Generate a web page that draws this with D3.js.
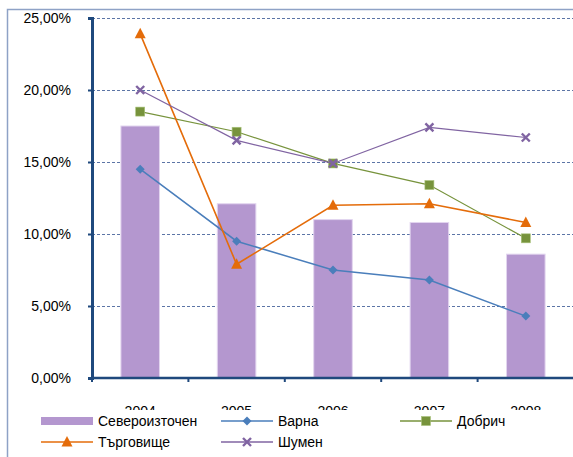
<!DOCTYPE html>
<html>
<head>
<meta charset="utf-8">
<script src="https://cdn.jsdelivr.net/npm/d3@7"></script>
<style>
  body { margin: 0; background: #fff; }
  svg text { font-family: "Liberation Sans", Arial, sans-serif; fill: #000; }
</style>
</head>
<body>
<svg id="chart" width="573" height="457"></svg>
<script>
// data
var years = ['2004', '2005', '2006', '2007', '2008'];
var severoiztochen = [17.5, 12.1, 11.0, 10.8, 8.6];
var varna = [14.5, 9.5, 7.5, 6.8, 4.3];
var dobrich = [18.5, 17.1, 14.9, 13.4, 9.7];
var targovishte = [23.9, 7.9, 12.0, 12.1, 10.8];
var shumen = [20.0, 16.5, 14.9, 17.4, 16.7];
var yTicks = [0, 5, 10, 15, 20, 25];

var lineSeries = [
    { name: 'Варна', values: varna, color: '#4A7EBB', width: 1.5, marker: 'diamond' },
    { name: 'Добрич', values: dobrich, color: '#77933C', width: 1.2, marker: 'square' },
    { name: 'Търговище', values: targovishte, color: '#E46C0A', width: 1.6, marker: 'triangle' },
    { name: 'Шумен', values: shumen, color: '#8064A2', width: 1.2, marker: 'x' }
];

var svg = d3.select('#chart');
var plotLeft = 92, plotRight = 574, plotTop = 18, plotBottom = 378;

// outer chart border
svg.append('rect')
    .attr('x', 7.5).attr('y', 9.5)
    .attr('width', 600).attr('height', 500)
    .attr('fill', 'none')
    .attr('stroke', '#8EA2C6')
    .attr('stroke-width', 1.5);

var x = d3.scaleBand().domain(years).range([plotLeft, plotRight]).paddingInner(0.6).paddingOuter(0.3);
var xc = function(d) { return x(d) + x.bandwidth() / 2; };
var y = d3.scaleLinear().domain([0, 25]).range([plotBottom, plotTop]);

// gridlines
svg.append('g').selectAll('line')
    .data(yTicks.filter(function(d) { return d > 0; }))
    .enter().append('line')
    .attr('x1', plotLeft).attr('x2', 573)
    .attr('y1', function(d) { return Math.round(y(d)) + 0.5; })
    .attr('y2', function(d) { return Math.round(y(d)) + 0.5; })
    .attr('stroke', '#5C75A6')
    .attr('stroke-width', 1)
    .attr('stroke-dasharray', '3,2');

// bars
svg.append('g').selectAll('rect')
    .data(severoiztochen)
    .enter().append('rect')
    .attr('x', function(d, i) { return x(years[i]); })
    .attr('width', x.bandwidth())
    .attr('y', function(d) { return y(d); })
    .attr('height', function(d) { return plotBottom - y(d); })
    .attr('fill', '#B497CF')
    .attr('stroke', '#E2D5EF')
    .attr('stroke-width', 1);

// y axis
var yAxis = svg.append('g')
    .attr('transform', 'translate(' + plotLeft + ',0)')
    .call(d3.axisLeft(y).tickValues(yTicks).tickSize(4).tickPadding(17)
        .tickFormat(function(d) { return d3.format('.2f')(d).replace('.', ',') + '%'; }));
yAxis.select('.domain').attr('stroke', '#1F497D').attr('stroke-width', 3);
yAxis.selectAll('.tick line').attr('stroke', '#1F497D').attr('stroke-width', 2);
yAxis.selectAll('text').style('font-size', '14px').attr('fill', '#000');

// x axis
var xTickPos = years.map(function(d) { return x(d) - x.step() * x.paddingInner() / 2; });
var xg = svg.append('g');
xg.append('line')
    .attr('x1', plotLeft - 1).attr('x2', 573)
    .attr('y1', plotBottom).attr('y2', plotBottom)
    .attr('stroke', '#1F497D').attr('stroke-width', 2.5);
xg.selectAll('.xt').data(xTickPos).enter().append('line')
    .attr('x1', function(d) { return d; }).attr('x2', function(d) { return d; })
    .attr('y1', plotBottom).attr('y2', plotBottom + 4)
    .attr('stroke', '#1F497D').attr('stroke-width', 2);
xg.selectAll('text').data(years).enter().append('text')
    .attr('x', xc).attr('y', 416)
    .attr('text-anchor', 'middle')
    .style('font-size', '14px')
    .text(function(d) { return d; });

function drawMarker(g, type, color) {
    if (type === 'diamond') {
        g.append('path').attr('d', 'M0,-4.5L4.5,0L0,4.5L-4.5,0Z').attr('fill', color);
    } else if (type === 'square') {
        g.append('rect').attr('x', -4.5).attr('y', -4.5).attr('width', 9).attr('height', 9)
            .attr('fill', color).attr('stroke', '#A9C27A').attr('stroke-width', 0.6);
    } else if (type === 'triangle') {
        g.append('path').attr('d', 'M0,-6L5.5,4.5L-5.5,4.5Z').attr('fill', color);
    } else {
        g.append('path').attr('d', 'M-4,-4L4,4M-4,4L4,-4')
            .attr('stroke', color).attr('stroke-width', 2.4).attr('fill', 'none');
    }
}

var line = d3.line()
    .x(function(d, i) { return xc(years[i]); })
    .y(function(d) { return y(d); });

lineSeries.forEach(function(s) {
    var g = svg.append('g');
    g.append('path')
        .datum(s.values)
        .attr('d', line)
        .attr('fill', 'none')
        .attr('stroke', s.color)
        .attr('stroke-width', s.width);
    g.selectAll('.m').data(s.values).enter().append('g')
        .attr('transform', function(d, i) { return 'translate(' + xc(years[i]) + ',' + y(d) + ')'; })
        .each(function() { drawMarker(d3.select(this), s.marker, s.color); });
});

// legend (white box overlapping the year labels, as in the original)
var legend = svg.append('g');
legend.append('rect')
    .attr('x', 30).attr('y', 410).attr('width', 543).attr('height', 47)
    .attr('fill', '#fff');

var legendItems = [
    { name: 'Североизточен', type: 'bar', color: '#B497CF', lx: 41, ly: 421 },
    { name: 'Варна', type: 'diamond', color: '#4A7EBB', lx: 221, ly: 421 },
    { name: 'Добрич', type: 'square', color: '#77933C', lx: 400, ly: 421 },
    { name: 'Търговище', type: 'triangle', color: '#E46C0A', lx: 41, ly: 442 },
    { name: 'Шумен', type: 'x', color: '#8064A2', lx: 221, ly: 442 }
];

legendItems.forEach(function(it) {
    var g = legend.append('g').attr('transform', 'translate(' + it.lx + ',' + it.ly + ')');
    if (it.type === 'bar') {
        g.append('rect').attr('x', 0).attr('y', -4).attr('width', 52).attr('height', 8).attr('fill', it.color);
    } else {
        g.append('line').attr('x1', 0).attr('x2', 52).attr('y1', 0).attr('y2', 0)
            .attr('stroke', it.color).attr('stroke-width', 1.5);
        var m = g.append('g').attr('transform', 'translate(26,0)');
        drawMarker(m, it.type, it.color);
    }
    g.append('text').attr('x', 57).attr('y', 5).style('font-size', '14px').text(it.name);
});
</script>
</body>
</html>
